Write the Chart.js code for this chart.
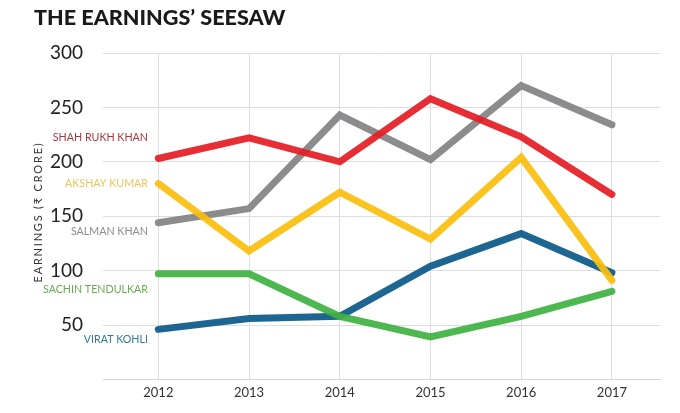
<!DOCTYPE html>
<html>
<head>
<meta charset="utf-8">
<script src="https://cdn.jsdelivr.net/npm/chart.js@4.4.1/dist/chart.umd.min.js"></script>
<style>
  html, body { margin: 0; padding: 0; background: #fff; }
  #wrap { position: relative; width: 680px; height: 413px; }
  #title { position: absolute; left: 34px; top: 4px; margin: 0;
    font: 900 21.6px Lato, sans-serif; color: #1a1a1a; letter-spacing: 0px; }
  #chart { position: absolute; left: 0; top: 0; }
</style>
</head>
<body>
<div id="wrap">
  <canvas id="chart" width="680" height="413"></canvas>
  <h1 id="title">THE EARNINGS’ SEESAW</h1>
</div>
<script>
const years = [2012, 2013, 2014, 2015, 2016, 2017];
const names = ['SHAH RUKH KHAN', 'AKSHAY KUMAR', 'SALMAN KHAN', 'SACHIN TENDULKAR', 'VIRAT KOHLI'];
const srk = [203, 222, 200, 258, 223, 170];
const akshay = [180, 118, 172, 129, 204, 91];
const salman = [144, 157, 243, 202, 270, 234];
const sachin = [97, 97, 58, 39, 58, 81];
const virat = [46, 56, 58, 104, 134, 98];
const yTicks = [50, 100, 150, 200, 250, 300];
const labelAt = [222, 180, 136, 83, 37]; // where each name sits, in crore

const lineColors = ['rgba(230,28,36,0.92)', 'rgba(251,190,12,0.92)', 'rgba(130,130,132,0.92)', 'rgba(62,178,64,0.92)', 'rgba(18,94,140,0.95)'];
const nameColors = ['#a8383c', '#e8c65a', '#8c8c8c', '#6aaa55', '#2f7a96'];
const series = [srk, akshay, salman, sachin, virat];

const sets = series.map((vals, i) => ({
    label: names[i],
    data: years.map((yr, j) => ({ x: yr, y: vals[j] })),
    borderColor: lineColors[i],
    borderWidth: 7,
    borderCapStyle: 'round',
    borderJoinStyle: 'miter',
    pointRadius: 0,
    tension: 0,
    fill: false
}));

// names on the left + the rotated axis title
const sideLabels = {
    id: 'sideLabels',
    afterDraw(chart) {
        const ctx = chart.ctx;
        const ys = chart.scales.y;
        ctx.save();
        ctx.font = '10.7px Lato, sans-serif';
        ctx.textAlign = 'right';
        ctx.textBaseline = 'middle';
        names.forEach((n, i) => {
            ctx.fillStyle = nameColors[i];
            ctx.fillText(n, 148, ys.getPixelForValue(labelAt[i]));
        });
        ctx.translate(38, 212);
        ctx.rotate(-Math.PI / 2);
        ctx.textAlign = 'center';
        ctx.fillStyle = '#333';
        ctx.letterSpacing = '1.8px';
        ctx.font = '11px Lato, sans-serif';
        ctx.fillText('EARNINGS (₹ CRORE)', 0, 0);
        ctx.restore();
    }
};

let chart = new Chart(document.getElementById('chart'), {
    type: 'line',
    data: { datasets: sets },
    options: {
        responsive: false,
        animation: false,
        layout: { padding: { top: 53, right: 20, bottom: 6, left: 0 } },
        plugins: { legend: { display: false }, tooltip: { enabled: false } },
        scales: {
            x: {
                type: 'linear',
                min: 2011.39,
                max: 2017.53,
                afterBuildTicks: s => { s.ticks = years.map(v => ({ value: v })); },
                grid: { color: '#dedede', lineWidth: 1, drawTicks: false },
                border: { color: '#d6d6d6' },
                ticks: { padding: 6, color: '#333', font: { family: 'Lato', size: 13 }, callback: v => String(v) }
            },
            y: {
                min: 0,
                max: 300,
                afterBuildTicks: s => { s.ticks = [0].concat(yTicks).map(v => ({ value: v })); },
                afterFit: s => { s.width = 103; },
                grid: { color: '#dedede', lineWidth: 1, drawTicks: false },
                border: { display: false },
                ticks: { padding: 20, color: '#222', font: { family: 'Lato', size: 19 },
                    callback: v => v === 0 ? '' : String(v) }
            }
        }
    },
    plugins: [sideLabels]
});
</script>
</body>
</html>
